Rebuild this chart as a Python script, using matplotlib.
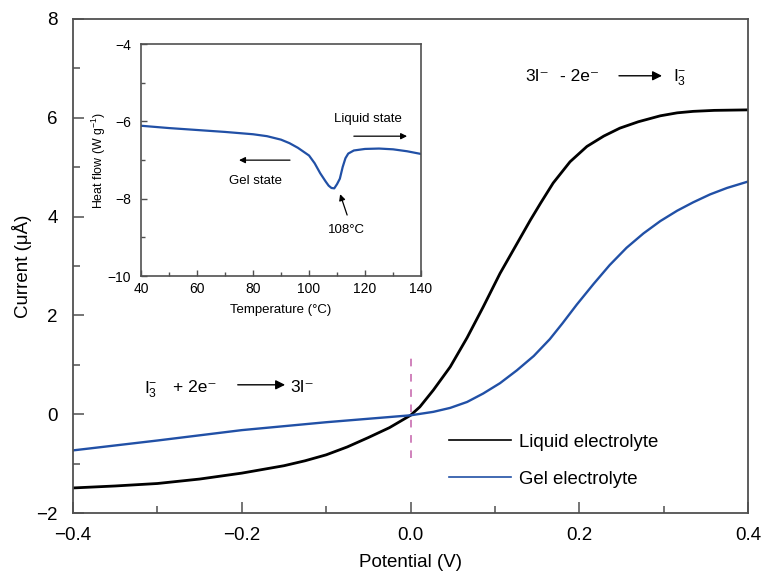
import matplotlib
matplotlib.use("Agg")
import matplotlib.pyplot as plt
from matplotlib.lines import Line2D
from matplotlib.ticker import MultipleLocator

plt.rcParams['font.family'] = ['Liberation Sans', 'DejaVu Sans']
plt.rcParams['mathtext.fontset'] = 'custom'
plt.rcParams['mathtext.rm'] = 'Liberation Sans'
plt.rcParams['mathtext.it'] = 'Liberation Sans:italic'
plt.rcParams['mathtext.bf'] = 'Liberation Sans:bold'

# I-V curves
liquid_v = [-0.4, -0.35, -0.3, -0.25, -0.2, -0.15, -0.125, -0.1, -0.075, -0.05, -0.025,
            0.0, 0.011, 0.027, 0.047, 0.067, 0.086, 0.106, 0.126, 0.142, 0.154, 0.169,
            0.189, 0.209, 0.229, 0.248, 0.27, 0.296, 0.316, 0.335, 0.36, 0.4]
liquid_i = [-1.49, -1.45, -1.40, -1.31, -1.19, -1.04, -0.94, -0.82, -0.66, -0.47, -0.27,
            -0.02, 0.15, 0.49, 0.96, 1.55, 2.17, 2.85, 3.45, 3.93, 4.27, 4.68,
            5.11, 5.42, 5.63, 5.79, 5.92, 6.04, 6.10, 6.13, 6.15, 6.16]

gel_v = [-0.4, -0.3, -0.2, -0.1, -0.05, 0.0, 0.027, 0.047, 0.067, 0.086, 0.106, 0.126,
         0.146, 0.165, 0.18, 0.197, 0.217, 0.236, 0.256, 0.276, 0.296, 0.316, 0.335,
         0.355, 0.375, 0.4]
gel_i = [-0.73, -0.53, -0.32, -0.16, -0.09, -0.02, 0.05, 0.13, 0.25, 0.42, 0.63, 0.89,
         1.18, 1.52, 1.84, 2.22, 2.64, 3.02, 3.37, 3.66, 3.91, 4.12, 4.29,
         4.45, 4.58, 4.71]

# DSC trace for the inset
dsc_t = [40, 50, 60, 70, 80, 85, 90, 93, 96, 100, 102, 104, 106, 107, 108, 109,
         110, 111, 112, 113, 114, 116, 120, 125, 130, 135, 140]
dsc_h = [-6.11, -6.17, -6.22, -6.27, -6.33, -6.38, -6.47, -6.56, -6.68, -6.88, -7.08,
         -7.34, -7.56, -7.66, -7.72, -7.73, -7.62, -7.48, -7.18, -6.95, -6.83, -6.75,
         -6.71, -6.70, -6.72, -6.77, -6.84]

blue = '#2150a6'
spine_col = '#505050'

fig = plt.figure(figsize=(7.61, 5.74), dpi=100)
ax = fig.add_axes([0.096, 0.106, 0.887, 0.861])

ax.plot(liquid_v, liquid_i, color='black', lw=2.0, solid_capstyle='round',
        solid_joinstyle='round')
ax.plot(gel_v, gel_i, color=blue, lw=1.7, solid_capstyle='round',
        solid_joinstyle='round')
ax.plot([0, 0], [-0.88, 1.14], color='#c460aa', lw=1.1, dashes=(5, 5))

ax.set_xlim(-0.4, 0.4)
ax.set_ylim(-2, 8)
ax.set_xticks([-0.4, -0.2, 0.0, 0.2, 0.4])
ax.set_xticklabels(['\u22120.4', '\u22120.2', '0.0', '0.2', '0.4'])
ax.xaxis.set_minor_locator(MultipleLocator(0.1))
ax.set_yticks([-2, 0, 2, 4, 6, 8])
ax.set_yticklabels(['\u22122', '0', '2', '4', '6', '8'])
ax.yaxis.set_minor_locator(MultipleLocator(1))
ax.tick_params(which='both', direction='in', color=spine_col, labelsize=13.5,
               top=False, right=False)
ax.tick_params(which='major', length=8, width=1.1)
ax.tick_params(which='minor', length=5, width=1.1)
ax.tick_params(axis='x', pad=10)
ax.tick_params(axis='y', pad=11)
for s in ax.spines.values():
    s.set_color(spine_col)
    s.set_linewidth(1.3)

ax.set_xlabel('Potential (V)', fontsize=13.5, labelpad=7)
ax.set_ylabel('Current (\u03bc\u00c5)', fontsize=13.5, labelpad=3)

handles = [Line2D([], [], color='black', lw=1.2), Line2D([], [], color=blue, lw=1.2)]
ax.legend(handles, ['Liquid electrolyte', 'Gel electrolyte'], loc='upper left',
          bbox_to_anchor=(0.549, 0.172), frameon=False, fontsize=13.4,
          handlelength=3.3, handletextpad=0.45, labelspacing=1.08,
          borderaxespad=0, borderpad=0.3)

# reaction equations
arrow = dict(arrowstyle='-|>', color='black', lw=1.0, mutation_scale=14,
             shrinkA=0, shrinkB=0)
ax.text(0.136, 6.84, '3I\u207b', fontsize=12.5, va='center', ha='left')
ax.text(0.177, 6.84, '- 2e\u207b', fontsize=12.5, va='center', ha='left')
ax.annotate('', xy=(0.298, 6.85), xytext=(0.247, 6.85), arrowprops=arrow)
ax.text(0.311, 6.80, 'I$_{3}^{-}$', fontsize=12.5, va='center', ha='left')

ax.text(-0.316, 0.50, 'I$_{3}^{-}$', fontsize=12.5, va='center', ha='left')
ax.text(-0.2815, 0.55, '+ 2e\u207b', fontsize=12.5, va='center', ha='left')
ax.annotate('', xy=(-0.1487, 0.597), xytext=(-0.2048, 0.597), arrowprops=arrow)
ax.text(-0.143, 0.55, '3I\u207b', fontsize=12.5, va='center', ha='left')

# inset: DSC
ins = fig.add_axes([0.1853, 0.519, 0.368, 0.404])
ins.plot(dsc_t, dsc_h, color=blue, lw=1.6, solid_joinstyle='round')
ins.set_xlim(40, 140)
ins.set_ylim(-10, -4)
ins.xaxis.set_major_locator(MultipleLocator(20))
ins.xaxis.set_minor_locator(MultipleLocator(10))
ins.set_yticks([-10, -8, -6, -4])
ins.set_yticklabels(['\u221210', '\u22128', '\u22126', '\u22124'])
ins.yaxis.set_minor_locator(MultipleLocator(1))
ins.tick_params(which='both', direction='in', color=spine_col, labelsize=10,
                top=False, right=False)
ins.tick_params(which='major', length=4, width=1.0)
ins.tick_params(which='minor', length=3, width=1.0)
ins.tick_params(axis='x', pad=4)
ins.tick_params(axis='y', pad=7)
for s in ins.spines.values():
    s.set_color(spine_col)
    s.set_linewidth(1.2)
ins.set_xlabel('Temperature (\u00b0C)', fontsize=9.5, labelpad=6)
ins.set_ylabel('Heat flow (W g$^{-1}$)', fontsize=8.9, labelpad=0)

small_arrow = dict(arrowstyle='-|>', color='black', lw=0.9, mutation_scale=9,
                   shrinkA=0, shrinkB=0)
ins.annotate('', xy=(75, -7.0), xytext=(93.2, -7.0), arrowprops=small_arrow)
ins.text(81, -7.54, 'Gel state', fontsize=9.5, ha='center', va='center')
ins.annotate('', xy=(135, -6.38), xytext=(116, -6.38), arrowprops=small_arrow)
ins.text(121, -5.94, 'Liquid state', fontsize=9.5, ha='center', va='center')
ins.annotate('', xy=(111.1, -7.88), xytext=(113.6, -8.42), arrowprops=small_arrow)
ins.text(113.2, -8.8, '108\u00b0C', fontsize=9.5, ha='center', va='center')

fig.savefig('out.png', dpi=100)
